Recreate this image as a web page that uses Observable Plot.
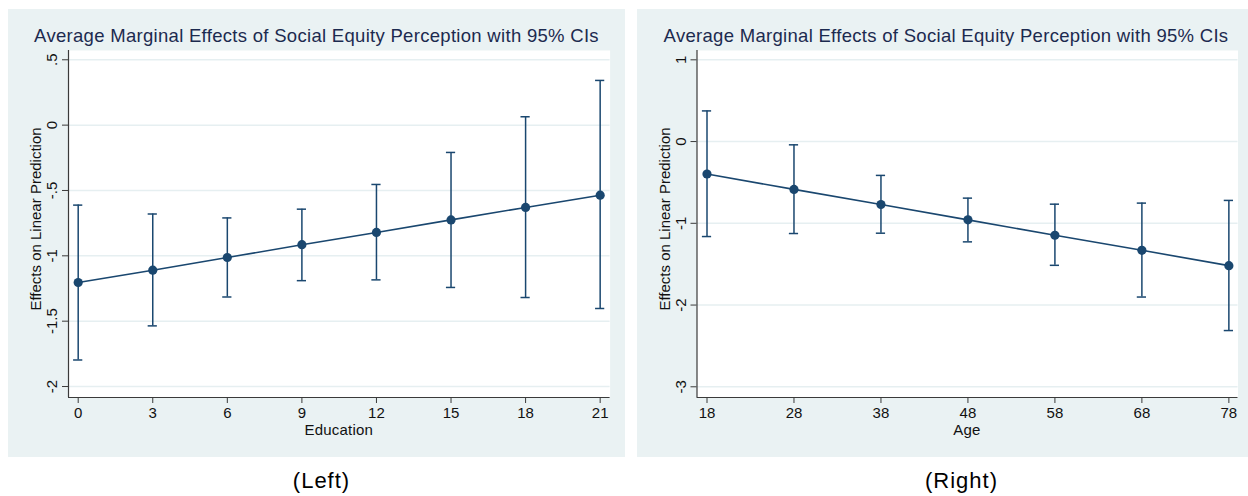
<!DOCTYPE html>
<html>
<head>
<meta charset="utf-8">
<script src="https://cdn.jsdelivr.net/npm/d3@7"></script>
<script src="https://cdn.jsdelivr.net/npm/@observablehq/plot@0.6"></script>
<style>
  html, body { margin: 0; padding: 0; background: #ffffff; width: 1248px; height: 496px; overflow: hidden; position: relative; font-family: "Liberation Sans", Arial, Helvetica, sans-serif; }
  .panel { position: absolute; top: 9px; height: 448px; background: #eaf2f3; }
  .panel svg { position: absolute; left: 0; top: 0; }
  .title { position: absolute; left: 0; right: 0; top: 16px; text-align: center; font-size: 18.5px; letter-spacing: 0.3px; line-height: 22px; color: #1c2a4f; white-space: nowrap; }
  .xlab { position: absolute; font-size: 15px; letter-spacing: 0.2px; line-height: 17px; color: #111; text-align: center; white-space: nowrap; transform: translateX(-50%); }
  .ylab { position: absolute; font-size: 15px; line-height: 17px; color: #111; white-space: nowrap; transform: translate(-50%, -50%) rotate(-90deg); }
  .caption { position: absolute; top: 468px; font-size: 22px; letter-spacing: 1px; line-height: 26px; color: #000; transform: translateX(-50%); white-space: nowrap; }
</style>
</head>
<body>
<script>
// ---------- data ----------
const eduX     = [0, 3, 6, 9, 12, 15, 18, 21];
const eduEst   = [-1.204, -1.110, -1.013, -0.915, -0.821, -0.725, -0.630, -0.536];
const eduLo    = [-1.797, -1.536, -1.315, -1.190, -1.184, -1.242, -1.319, -1.403];
const eduHi    = [-0.612, -0.680, -0.710, -0.643, -0.454, -0.209, 0.064, 0.342];
const eduYTicks = [-2, -1.5, -1, -0.5, 0, 0.5];

const ageX     = [18, 28, 38, 48, 58, 68, 78];
const ageEst   = [-0.397, -0.585, -0.770, -0.958, -1.146, -1.330, -1.518];
const ageLo    = [-1.162, -1.125, -1.121, -1.227, -1.514, -1.902, -2.312];
const ageHi    = [0.375, -0.040, -0.414, -0.692, -0.766, -0.753, -0.720];
const ageYTicks = [-3, -2, -1, 0, 1];

const titleText = "Average Marginal Effects of Social Equity Perception with 95% CIs";
const yTitle = "Effects on Linear Prediction";

const navy = "#1a476f";
const axisColor = "#3a3a3a";
const gridColor = "#e6eff1";

function fmtTick(v) {
  if (v === 0) return "0";
  const s = String(v);
  return s.replace(/^(-?)0\./, "$1.");
}

function makePanel(cfg) {
  const rows = cfg.xs.map((x, i) => ({x, est: cfg.est[i], lo: cfg.lo[i], hi: cfg.hi[i]}));
  const [x0] = cfg.xDomain;
  const [y0] = cfg.yDomain;
  const panel = document.createElement("div");
  panel.className = "panel";
  panel.style.left = cfg.left + "px";
  panel.style.width = cfg.width + "px";
  document.body.appendChild(panel);

  const chart = Plot.plot({
    width: cfg.width,
    height: 448,
    marginLeft: cfg.mLeft,
    marginRight: cfg.mRight,
    marginTop: 41,
    marginBottom: 60,
    style: {background: "transparent", fontFamily: "'Liberation Sans', Arial, Helvetica, sans-serif", fontSize: "15px", color: "#111", overflow: "visible"},
    x: {domain: cfg.xDomain},
    y: {domain: cfg.yDomain},
    marks: [
      Plot.frame({fill: "white", stroke: "none"}),
      Plot.gridY(cfg.yTicks, {stroke: gridColor, strokeOpacity: 1, strokeWidth: 1.5}),
      Plot.ruleX([x0], {stroke: axisColor, strokeWidth: 1.2}),
      Plot.ruleY([y0], {stroke: axisColor, strokeWidth: 1.2}),
      Plot.axisX({ticks: cfg.xs, tickSize: 6, tickPadding: 4, stroke: axisColor, fill: "#111", fontSize: 15, label: null, tickFormat: d => String(d)}),
      Plot.axisY({ticks: cfg.yTicks, tickSize: 6, stroke: axisColor, label: null, tickFormat: () => ""}),
      Plot.text(cfg.yTicks, {y: d => d, frameAnchor: "left", text: d => fmtTick(d), rotate: -90, dx: -16, fontSize: 15, fill: "#111", textAnchor: "middle", lineAnchor: "middle"}),
      Plot.ruleX(rows, {x: "x", y1: "lo", y2: "hi", stroke: navy, strokeWidth: 1.5}),
      Plot.ruleY(rows, {y: "lo", x1: d => d.x - cfg.cap, x2: d => d.x + cfg.cap, stroke: navy, strokeWidth: 1.5}),
      Plot.ruleY(rows, {y: "hi", x1: d => d.x - cfg.cap, x2: d => d.x + cfg.cap, stroke: navy, strokeWidth: 1.5}),
      Plot.line(rows, {x: "x", y: "est", stroke: navy, strokeWidth: 1.6}),
      Plot.dot(rows, {x: "x", y: "est", r: 4.6, fill: navy, stroke: "none"})
    ]
  });
  panel.appendChild(chart);

  const t = document.createElement("div");
  t.className = "title";
  t.textContent = titleText;
  panel.appendChild(t);

  const plotCenter = cfg.mLeft + (cfg.width - cfg.mLeft - cfg.mRight) / 2;
  const xl = document.createElement("div");
  xl.className = "xlab";
  xl.style.left = plotCenter + "px";
  xl.style.top = "412px";
  xl.textContent = cfg.xTitle;
  panel.appendChild(xl);

  const yl = document.createElement("div");
  yl.className = "ylab";
  yl.style.left = "27px";
  yl.style.top = "210px";
  yl.textContent = yTitle;
  panel.appendChild(yl);
}

makePanel({
  left: 8, width: 617, mLeft: 60, mRight: 15.4,
  xs: eduX, est: eduEst, lo: eduLo, hi: eduHi,
  xDomain: [-0.39, 21.40], yDomain: [-2.084, 0.571],
  yTicks: eduYTicks, cap: 0.185, xTitle: "Education"
});
makePanel({
  left: 637, width: 618, mLeft: 59.5, mRight: 17.5,
  xs: ageX, est: ageEst, lo: ageLo, hi: ageHi,
  xDomain: [16.85, 79.05], yDomain: [-3.131, 1.114],
  yTicks: ageYTicks, cap: 0.53, xTitle: "Age"
});

const c1 = document.createElement("div");
c1.className = "caption"; c1.style.left = "321.5px"; c1.textContent = "(Left)";
document.body.appendChild(c1);
const c2 = document.createElement("div");
c2.className = "caption"; c2.style.left = "961.5px"; c2.textContent = "(Right)";
document.body.appendChild(c2);
</script>
</body>
</html>
